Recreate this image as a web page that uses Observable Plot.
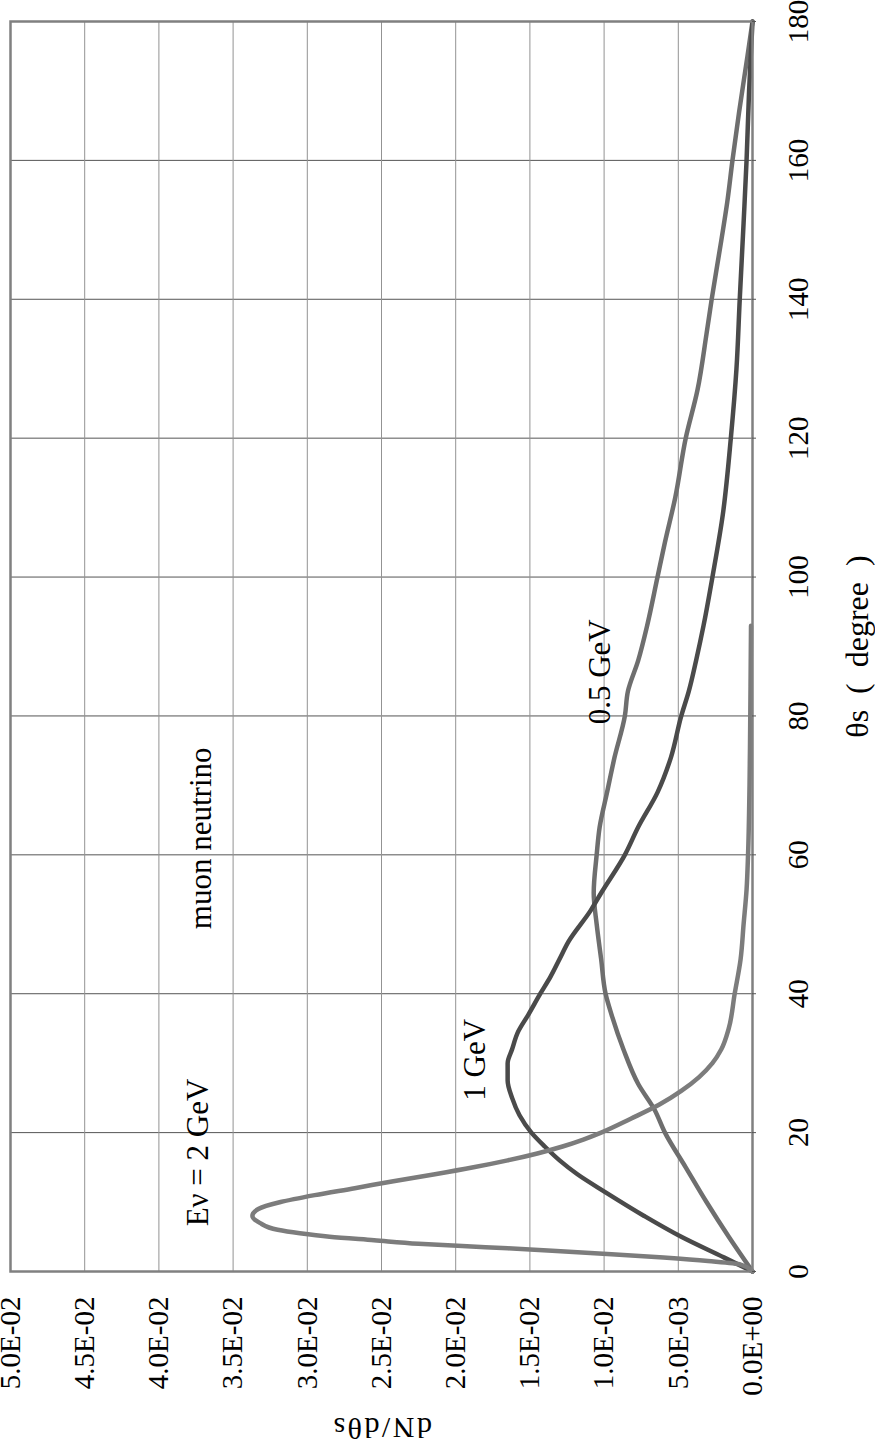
<!DOCTYPE html>
<html>
<head>
<meta charset="utf-8">
<script src="https://cdn.jsdelivr.net/npm/d3@7"></script>
<script src="https://cdn.jsdelivr.net/npm/@observablehq/plot@0.6"></script>
<style>
  html, body { margin: 0; padding: 0; background: #fff; overflow: hidden; }
  #wrap { position: relative; width: 875px; height: 1446px; overflow: hidden; }
  #wrap svg { position: absolute; left: 0; top: 0; transform-origin: 0 0;
              max-width: none !important; width: 1446px !important; height: 875px !important;
              transform: translate(0px, 1446px) rotate(-90deg); }
</style>
</head>
<body>
<div id="wrap"></div>
<script>
// ---- data (θs in degrees, dN/dθs) ----
const theta2GeV = [0, 1, 1.5, 2, 2.5, 3, 3.5, 4, 4.5, 5, 5.5, 6, 7, 8, 9, 10, 11, 12, 13, 14, 15, 16, 17, 18, 19, 20, 22, 24, 26, 28, 30, 32, 35, 40, 45, 50, 55, 60, 70, 80, 93];
const dn2GeV    = [0, 0.0008, 0.003, 0.006, 0.0095, 0.0135, 0.018, 0.0225, 0.0255, 0.0285, 0.0305, 0.032, 0.0332, 0.0337, 0.0333, 0.0318, 0.0295, 0.0268, 0.0242, 0.0214, 0.0188, 0.0165, 0.0145, 0.0128, 0.0114, 0.0102, 0.0082, 0.0063, 0.0048, 0.0036, 0.0027, 0.0021, 0.0016, 0.0012, 0.0008, 0.0006, 0.0004, 0.0003, 0.0002, 0.00015, 0.0001];

const theta1GeV = [0, 2, 5, 8, 11.4, 14, 16, 18, 20, 22.5, 25, 27.5, 30, 32, 34.5, 37, 40, 42.5, 45, 47.5, 52, 54.5, 60, 64, 69, 74, 80, 83.5, 88, 93, 100, 109, 120, 130, 140, 151, 160, 170, 180];
const dn1GeV    = [0, 0.0019, 0.0048, 0.0073, 0.0099, 0.0118, 0.0130, 0.0140, 0.0149, 0.0157, 0.0162, 0.0165, 0.0165, 0.0162, 0.0158, 0.0151, 0.0143, 0.0136, 0.0130, 0.0124, 0.0109, 0.0102, 0.0086, 0.0077, 0.0064, 0.0055, 0.0048, 0.0043, 0.0038, 0.0033, 0.0027, 0.0020, 0.00146, 0.00108, 0.00086, 0.0006, 0.0004, 0.00023, 0];

const theta05GeV = [0, 5, 10, 15, 20, 23.3, 27, 32, 37, 40, 45, 50, 54.5, 60, 64, 69, 74, 80, 83.5, 88, 93, 100, 105, 111.5, 120, 127, 135, 140, 148.5, 154, 160, 167, 175, 180];
const dn05GeV    = [0, 0.0016, 0.0031, 0.0045, 0.0059, 0.0066, 0.0077, 0.0087, 0.0095, 0.0099, 0.0102, 0.0105, 0.0107, 0.0105, 0.0103, 0.0098, 0.0093, 0.0086, 0.0084, 0.0077, 0.0071, 0.0064, 0.0059, 0.0052, 0.0045, 0.0037, 0.0031, 0.00275, 0.0021, 0.0017, 0.00135, 0.0009, 0.00034, 0];

const xTicks = [0, 20, 40, 60, 80, 100, 120, 140, 160, 180];
const yTicks = [0, 0.005, 0.01, 0.015, 0.02, 0.025, 0.03, 0.035, 0.04, 0.045, 0.05];

const notes      = ["Eν = 2 GeV", "muon neutrino", "1 GeV", "0.5 GeV"];
const notesTheta = [6.5, 49.3, 24.6, 78.8];
const notesDN    = [0.0367, 0.0365, 0.0180, 0.0096];

// ---- build tables ----
const zip = (xs, ys) => xs.map((x, i) => ({theta: x, dn: ys[i]}));
const s2 = zip(theta2GeV, dn2GeV);
const s1 = zip(theta1GeV, dn1GeV);
const s05 = zip(theta05GeV, dn05GeV);
const noteData = notes.map((t, i) => ({text: t, theta: notesTheta[i], dn: notesDN[i]}));

function sci(d) {
  if (d === 0) return "0.0E+00";
  const e = Math.floor(Math.log10(d) + 1e-9);
  const m = d / Math.pow(10, e);
  return m.toFixed(1) + "E" + (e < 0 ? "-" : "+") + String(Math.abs(e)).padStart(2, "0");
}

const FONT = "'Liberation Serif', 'Times New Roman', serif";
const yTitle = "dN/dθs";

const chart = Plot.plot({
  width: 1446,
  height: 875,
  marginLeft: 174,
  marginRight: 22,
  marginTop: 10,
  marginBottom: 123,
  style: {fontFamily: FONT, background: "#fff", color: "#000"},
  x: {domain: [0, 180]},
  y: {domain: [0, 0.05]},
  marks: [
    Plot.gridX(xTicks, {stroke: "#555", strokeOpacity: 1, strokeWidth: 1}),
    Plot.gridY(yTicks, {stroke: "#939393", strokeOpacity: 1, strokeWidth: 1}),
    Plot.line(s05, {x: "theta", y: "dn", stroke: "#6e6e6e", strokeWidth: 4.5, curve: "monotone-x", strokeLinejoin: "round"}),
    Plot.line(s1,  {x: "theta", y: "dn", stroke: "#4a4a4a", strokeWidth: 4.5, curve: "monotone-x", strokeLinejoin: "round"}),
    Plot.line(s2,  {x: "theta", y: "dn", stroke: "#7c7c7c", strokeWidth: 4.5, curve: "monotone-x", strokeLinejoin: "round"}),
    Plot.frame({stroke: "#808080", strokeWidth: 2.5}),
    Plot.axisX(xTicks, {tickSize: 4, tickPadding: 31, fontSize: 29, label: null, fill: "#000", stroke: "#555"}),
    Plot.axisY(yTicks, {tickSize: 0, tickPadding: 25, fontSize: 29, tickFormat: sci, label: null, fill: "#000"}),
    Plot.text(noteData, {x: "theta", y: "dn", text: "text", textAnchor: "start", lineAnchor: "bottom", fontSize: 31, fill: "#000"}),
    Plot.text(["θs\u00a0\u00a0(\u00a0\u00a0degree\u00a0\u00a0)"], {text: d => d, frameAnchor: "bottom", dy: 115, lineAnchor: "bottom", textAnchor: "middle", fontSize: 32, fill: "#000"}),
    Plot.text([yTitle], {text: d => d, frameAnchor: "left", dx: -146, rotate: -90, lineAnchor: "bottom", textAnchor: "middle", fontSize: 30, fill: "#000"})
  ]
});

d3.select(chart).selectAll("text")
  .filter(function() { return this.textContent === yTitle; })
  .style("letter-spacing", "2.5px");

document.getElementById("wrap").appendChild(chart);
</script>
</body>
</html>
